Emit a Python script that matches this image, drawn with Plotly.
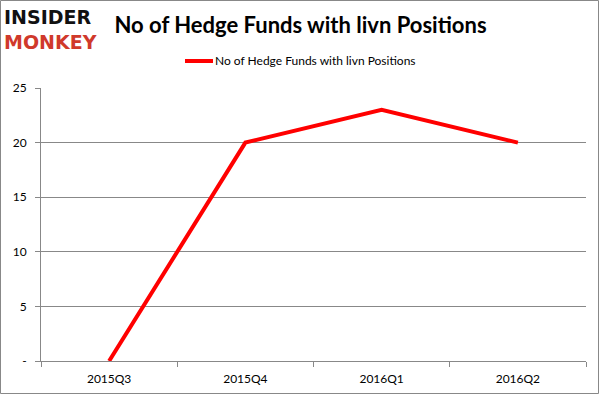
import plotly.graph_objects as go

categories = ["2015Q3", "2015Q4", "2016Q1", "2016Q2"]
values = [0, 20, 23, 20]
series_name = "No of Hedge Funds with livn Positions"
title_text = "No of Hedge Funds with livn Positions"
ytick_vals = [0, 5, 10, 15, 20, 25]
ytick_text = ["-", "5", "10", "15", "20", "25"]

W, H = 601, 395
L, R, T, B = 41, 15, 88, 34
pw, ph = W - L - R, H - T - B

def px(x):
    return (x - L) / pw

def py(y):
    return (H - B - y) / ph

fig = go.Figure()
fig.add_trace(go.Scatter(
    x=categories, y=values, mode="lines", name=series_name,
    line=dict(color="#ff0000", width=4), showlegend=False,
))

fig.update_layout(
    width=W, height=H,
    margin=dict(l=L, r=R, t=T, b=B, autoexpand=False),
    paper_bgcolor="white", plot_bgcolor="white",
    font=dict(family="Lato, Open Sans, sans-serif", size=12, color="#000"),
    title=dict(text="<b>" + title_text + "</b>", x=0.5, xref="container", xanchor="center",
               y=1 - 25 / H, yref="container", yanchor="middle",
               font=dict(family="Lato, Open Sans, sans-serif", size=22, color="#000")),
    showlegend=False,
    xaxis=dict(type="category", showgrid=False, showline=True, linecolor="#888",
               linewidth=1, ticks="outside", tickson="boundaries", ticklen=5,
               tickcolor="#888", tickfont=dict(size=12), range=[-0.5, 3.5],
               automargin=False, ticklabelstandoff=7),
    yaxis=dict(range=[0, 25], tickvals=ytick_vals, ticktext=ytick_text,
               showgrid=True, gridcolor="#888", gridwidth=1, showline=True,
               linecolor="#888", ticks="outside", ticklen=5, tickcolor="#888",
               zeroline=False, tickfont=dict(size=12), automargin=False,
               ticklabelstandoff=6),
)

# outer border of the whole image
fig.add_shape(type="rect", xref="paper", yref="paper",
              x0=px(0.5), x1=px(598.5), y0=py(393.5), y1=py(0.5),
              line=dict(color="#888", width=1), fillcolor="rgba(0,0,0,0)", layer="above")

# manual legend
fig.add_shape(type="line", xref="paper", yref="paper",
              x0=px(185), x1=px(213), y0=py(61), y1=py(61),
              line=dict(color="#ff0000", width=4))
fig.add_annotation(text=series_name, xref="paper", yref="paper",
                   x=px(213), y=py(61), xanchor="left", yanchor="middle", showarrow=False,
                   font=dict(size=12, color="#000"))

# logo
fig.add_annotation(text="<b><span style='color:#111'>INSIDER</span><br>"
                        "<span style='color:#d0392b'>MONKEY</span></b>",
                   xref="paper", yref="paper", align="left",
                   x=px(3), y=py(29), xanchor="left", yanchor="middle", showarrow=False,
                   borderpad=0,
                   font=dict(family="DejaVu Sans, sans-serif", size=19, color="#111"))

fig.write_html("out.html", config={"displayModeBar": False},
               post_script="document.body.style.margin='0';")
